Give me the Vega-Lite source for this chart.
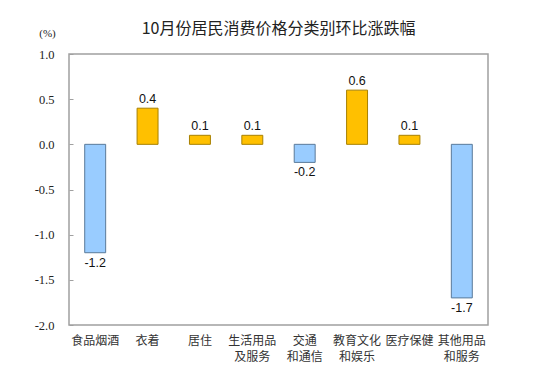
{
  "$schema": "https://vega.github.io/schema/vega-lite/v6.json",
  "width": 419,
  "height": 271,
  "autosize": {"type": "none"},
  "padding": {"left": 69, "top": 54, "right": 50, "bottom": 58},
  "background": "white",
  "title": {
    "text": "10月份居民消费价格分类别环比涨跌幅",
    "font": "Noto Sans CJK SC",
    "fontSize": 16,
    "fontWeight": "normal",
    "color": "#222222",
    "anchor": "middle",
    "frame": "group",
    "offset": 20,
    "dy": 30
  },
  "config": {
    "view": {"stroke": "#a0a0a0", "strokeWidth": 1.5}
  },
  "data": {
    "values": [
      {"category": "食品烟酒", "value": -1.2},
      {"category": "衣着", "value": 0.4},
      {"category": "居住", "value": 0.1},
      {"category": "生活用品及服务", "value": 0.1},
      {"category": "交通和通信", "value": -0.2},
      {"category": "教育文化和娱乐", "value": 0.6},
      {"category": "医疗保健", "value": 0.1},
      {"category": "其他用品和服务", "value": -1.7}
    ]
  },
  "encoding": {
    "x": {
      "field": "category",
      "type": "nominal",
      "sort": null,
      "scale": {"paddingInner": 0.6, "paddingOuter": 0.3},
      "axis": {
        "title": null,
        "labelAngle": 0,
        "ticks": false,
        "domain": false,
        "labelPadding": 10,
        "labelFont": "Noto Sans CJK SC",
        "labelFontSize": 12,
        "labelColor": "#333333",
        "labelLineHeight": 16,
        "labelBaseline": "top",
        "labelExpr": "length(datum.label) == 5 ? [substring(datum.label,0,2), substring(datum.label,2)] : length(datum.label) == 7 ? [substring(datum.label,0,4), substring(datum.label,4)] : datum.label"
      }
    }
  },
  "layer": [
    {
      "mark": {"type": "bar", "strokeWidth": 1},
      "encoding": {
        "y": {
          "field": "value",
          "type": "quantitative",
          "scale": {"domain": [-2, 1], "nice": false, "zero": true},
          "axis": {
            "values": [-2, -1.5, -1, -0.5, 0, 0.5, 1],
            "format": ".1f",
            "labelExpr": "replace(datum.label, '−', '-')",
            "grid": false,
            "domain": false,
            "tickSize": -4,
            "tickColor": "#a0a0a0",
            "labelPadding": 19,
            "labelFont": "Liberation Serif",
            "labelFontSize": 12.5,
            "labelColor": "#222222",
            "title": "(%)",
            "titleAngle": 0,
            "titleFont": "Liberation Serif",
            "titleFontSize": 11,
            "titleFontWeight": "normal",
            "titleColor": "#222222",
            "titleX": -22,
            "titleY": -16,
            "titleAlign": "center"
          }
        },
        "color": {
          "condition": {"test": "datum.value >= 0", "value": "#FFC000"},
          "value": "#99CCFF"
        },
        "stroke": {
          "condition": {"test": "datum.value >= 0", "value": "#A88000"},
          "value": "#5A7A9A"
        }
      }
    },
    {
      "mark": {"type": "rule", "color": "#a0a0a0", "strokeWidth": 1.5},
      "encoding": {"y": {"datum": 0, "type": "quantitative"}}
    },
    {
      "mark": {
        "type": "text",
        "font": "Liberation Sans",
        "fontSize": 12.5,
        "color": "#111111",
        "text": {"expr": "replace(format(datum.value, '.1f'), '−', '-')"},
        "baseline": {"expr": "datum.value >= 0 ? 'bottom' : 'top'"},
        "dy": {"expr": "datum.value >= 0 ? -2 : 4"}
      },
      "encoding": {
        "x": {"field": "category", "type": "nominal", "sort": null, "bandPosition": 0.5},
        "y": {"field": "value", "type": "quantitative"}
      }
    }
  ]
}
